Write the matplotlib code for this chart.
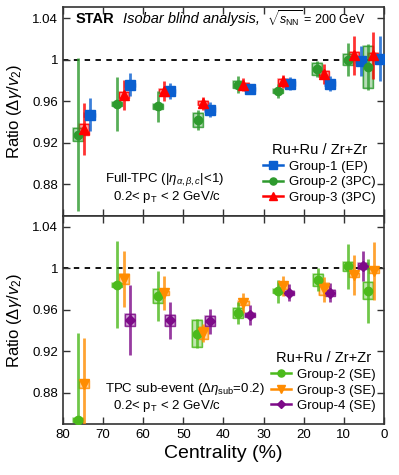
import matplotlib
matplotlib.use("Agg")
import matplotlib.pyplot as plt
from matplotlib.patches import Rectangle
from matplotlib.lines import Line2D

plt.rcParams['font.family'] = ['Liberation Sans', 'DejaVu Sans']
plt.rcParams['mathtext.fontset'] = 'custom'
plt.rcParams['mathtext.rm'] = 'Liberation Sans'
plt.rcParams['mathtext.it'] = 'Liberation Sans:italic'

# Top panel: full-TPC
g1_cent = [73.4, 63.3, 53.3, 43.3, 33.4, 23.4, 13.4, 5.8, 1.0]
g1_val = [0.947, 0.976, 0.970, 0.952, 0.972, 0.977, 0.977, 0.999, 1.001]
g1_err = [0.016, 0.011, 0.008, 0.007, 0.005, 0.006, 0.007, 0.0145, 0.022]
g1_sys = [0.002, 0.002, 0.002, 0.002, 0.002, 0.002, 0.002, 0.002, 0.002]

g2_cent = [76.3, 66.5, 56.2, 46.4, 36.4, 26.5, 16.6, 9.0, 3.9]
g2_val = [0.928, 0.957, 0.955, 0.942, 0.976, 0.970, 0.991, 1.000, 0.993]
g2_err = [0.074, 0.026, 0.015, 0.010, 0.008, 0.007, 0.008, 0.016, 0.022]
g2_sys = [0.006, 0.002, 0.002, 0.0065, 0.003, 0.002, 0.006, 0.005, 0.020]

g3_cent = [74.8, 64.8, 54.8, 45.0, 35.0, 25.1, 14.9, 7.4, 2.6]
g3_val = [0.933, 0.966, 0.970, 0.958, 0.976, 0.979, 0.986, 1.004, 1.004]
g3_err = [0.025, 0.0145, 0.0095, 0.0065, 0.006, 0.0065, 0.0095, 0.019, 0.0225]
g3_sys = [0.0055, 0.003, 0.002, 0.002, 0.002, 0.002, 0.003, 0.003, 0.002]

# Bottom panel: TPC sub-event
s2_cent = [76.3, 66.5, 56.4, 46.5, 36.3, 26.4, 16.4, 8.9, 3.9]
s2_val = [0.8535, 0.984, 0.9735, 0.937, 0.957, 0.978, 0.989, 1.002, 0.9785]
s2_err = [0.084, 0.042, 0.024, 0.014, 0.011, 0.011, 0.011, 0.022, 0.031]
s2_sys = [0.002, 0.002, 0.0066, 0.013, 0.005, 0.002, 0.006, 0.0045, 0.008]

s3_cent = [74.8, 64.8, 54.8, 45.0, 35.0, 25.1, 14.9, 7.4, 2.4]
s3_val = [0.888, 0.990, 0.976, 0.9376, 0.9665, 0.983, 0.980, 0.9936, 0.9974]
s3_err = [0.045, 0.027, 0.0165, 0.009, 0.0095, 0.010, 0.012, 0.019, 0.028]
s3_sys = [0.004, 0.005, 0.002, 0.006, 0.002, 0.003, 0.0056, 0.002, 0.002]

s4_cent = [63.3, 53.3, 43.3, 33.4, 23.6, 13.4, 5.1]
s4_val = [0.9504, 0.9497, 0.949, 0.955, 0.9766, 0.9766, 1.002]
s4_err = [0.034, 0.018, 0.012, 0.0096, 0.008, 0.009, 0.0145]
s4_sys = [0.0056, 0.0056, 0.005, 0.002, 0.002, 0.003, 0.003]

blue = '#0a5fd0'
green = '#2e9a2e'
red = '#ff0000'
lgreen = '#4cba1c'
orange = '#ff8c00'
purple = '#7d0a88'


def draw(ax, cent, val, err, sys, color, marker, ms, label):
    for c, v, s in zip(cent, val, sys):
        ax.add_patch(Rectangle((c - 1.25, v - s), 2.5, 2 * s, facecolor=color,
                               edgecolor=color, alpha=0.35, lw=1.2, zorder=2))
        ax.add_patch(Rectangle((c - 1.25, v - s), 2.5, 2 * s, facecolor='none',
                               edgecolor=color, alpha=0.8, lw=1.0, zorder=2))
    ax.errorbar(cent, val, yerr=err, fmt='none', ecolor=color, elinewidth=2,
                alpha=0.8, capsize=0, zorder=3)
    ax.plot(cent, val, ls='none', marker=marker, ms=ms, color=color,
            mec=color, zorder=4)
    return Line2D([], [], color=color, lw=1.8, marker=marker, ms=ms * 0.85,
                  label=label)


fig = plt.figure(figsize=(3.99, 4.75), dpi=100)
ax1 = fig.add_axes([0.158, 0.545, 0.804, 0.44])
ax2 = fig.add_axes([0.158, 0.107, 0.804, 0.438], sharex=ax1)

h1 = draw(ax1, g1_cent, g1_val, g1_err, g1_sys, blue, 's', 6.5, 'Group-1 (EP)')
h2 = draw(ax1, g2_cent, g2_val, g2_err, g2_sys, green, 'o', 6, 'Group-2 (3PC)')
h3 = draw(ax1, g3_cent, g3_val, g3_err, g3_sys, red, '^', 6.5, 'Group-3 (3PC)')

k2 = draw(ax2, s2_cent, s2_val, s2_err, s2_sys, lgreen, 'o', 6, 'Group-2 (SE)')
k3 = draw(ax2, s3_cent, s3_val, s3_err, s3_sys, orange, 'v', 6.5, 'Group-3 (SE)')
k4 = draw(ax2, s4_cent, s4_val, s4_err, s4_sys, purple, 'D', 5, 'Group-4 (SE)')

yticks = [0.88, 0.92, 0.96, 1.0, 1.04]
ylabels = ['0.88', '0.92', '0.96', '1', '1.04']
for ax in (ax1, ax2):
    ax.set_xlim(80, 0)
    ax.set_ylim(0.8495, 1.0505)
    ax.axhline(1.0, color='black', ls=(0, (3, 3)), lw=1.3, zorder=1)
    ax.set_yticks(yticks)
    ax.set_yticklabels(ylabels)
    ax.set_xticks([80, 70, 60, 50, 40, 30, 20, 10, 0])
    ax.tick_params(direction='in', top=True, right=True, length=5,
                   width=1, labelsize=9.5, colors='#333333', labelcolor='black')
    ax.set_ylabel(r'Ratio ($\Delta\gamma/v_2$)', fontsize=12, labelpad=6)
    for sp in ax.spines.values():
        sp.set_linewidth(1.2)
        sp.set_color('#333333')

ax1.tick_params(labelbottom=False)
ax2.set_xticklabels(['80', '70', '60', '50', '40', '30', '20', '10', '0'])
ax2.set_xlabel('Centrality (%)', fontsize=14, labelpad=3)

ax1.text(0.04, 0.945, 'STAR', transform=ax1.transAxes, fontsize=10.5,
         fontweight='bold', va='center')
ax1.text(0.187, 0.945, 'Isobar blind analysis,', transform=ax1.transAxes,
         fontsize=10.5, style='italic', va='center')
ax1.text(0.635, 0.945, r'$\sqrt{s_{\rm NN}}$ = 200 GeV', transform=ax1.transAxes,
         fontsize=9, va='center')

ax1.text(0.13, 0.175, r'Full-TPC ($|\eta_{\alpha,\beta,c}|$<1)',
         transform=ax1.transAxes, fontsize=9.5, va='center')
ax1.text(0.155, 0.09, r'0.2< p$_{\rm T}$ < 2 GeV/c',
         transform=ax1.transAxes, fontsize=9.5, va='center')

ax2.text(0.13, 0.17, r'TPC sub-event ($\Delta\eta_{\rm sub}$=0.2)',
         transform=ax2.transAxes, fontsize=9.5, va='center')
ax2.text(0.155, 0.085, r'0.2< p$_{\rm T}$ < 2 GeV/c',
         transform=ax2.transAxes, fontsize=9.5, va='center')

for ax, hs in ((ax1, [h1, h2, h3]), (ax2, [k2, k3, k4])):
    leg = ax.legend(handles=hs, title='Ru+Ru / Zr+Zr', loc='lower right',
                    bbox_to_anchor=(1.0, 0.02), frameon=False, fontsize=9.5,
                    title_fontsize=10.5, handlelength=1.5, handletextpad=0.5,
                    labelspacing=0.25, borderaxespad=0.2)

fig.savefig('out.png', dpi=100)
